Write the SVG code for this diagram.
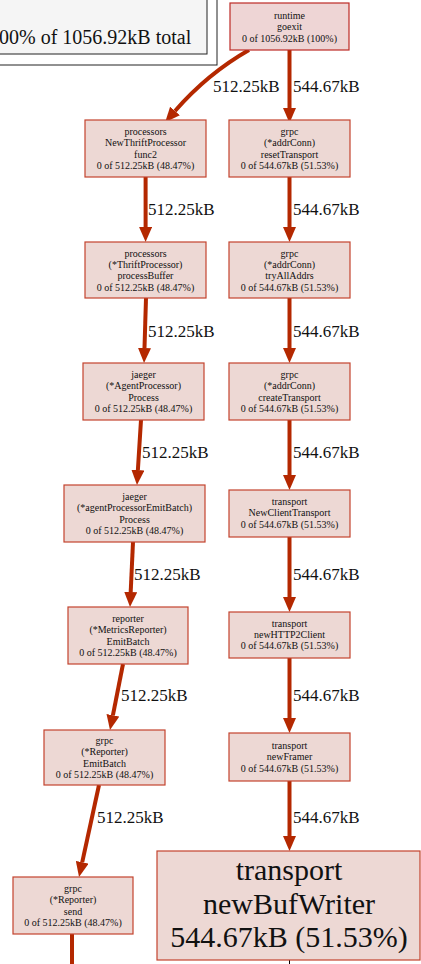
<svg xmlns="http://www.w3.org/2000/svg" width="421" height="964" viewBox="0 0 421 964">
  <style>
    text { font-family: 'Liberation Serif', 'DejaVu Serif', serif; }
    .node rect { fill: #edd8d4; stroke: #c3432e; stroke-width: 1.2; }
    .node.hot rect { fill: #eed5d5; stroke: #bd2a26; }
    .node text { font-size: 10px; fill: #111; text-anchor: middle; }
    .node.big text { font-size: 30px; }
    .edge { fill: none; stroke: #b42800; stroke-width: 4; }
    .thin { fill: none; stroke: #000; stroke-width: 1; }
    .elabel { font-size: 17px; fill: #111; }
    .legend rect { stroke: #222; stroke-width: 1; }
    .legend text { font-size: 20px; fill: #111; }
  </style>
  <defs>
    <marker id="arrow" markerUnits="userSpaceOnUse" markerWidth="15" markerHeight="13" refX="0" refY="6.5" orient="auto" viewBox="0 0 15 13">
      <path d="M0,0 L15,6.5 L0,13 z" fill="#b42800"/>
    </marker>
  </defs>
  <rect x="0" y="0" width="421" height="964" fill="#fff"/>

  <!-- legend -->
  <g id="legend" class="legend">
    <rect x="-2" y="-2" width="219" height="67" fill="#fff"/>
    <rect x="-2" y="-2" width="209" height="56" fill="#f5f5f5"/>
    <text x="-1" y="43.5">00% of 1056.92kB total</text>
  </g>

  <!-- connectors -->
  <g id="edges">
    <path class="edge" d="M249,50 C228,62 202,80 175,111" marker-end="url(#arrow)"/>
    <path class="edge" d="M289.5,50 L289.5,108" marker-end="url(#arrow)"/>
    <path class="edge" d="M145.6,177 L145.6,227" marker-end="url(#arrow)"/>
    <path class="edge" d="M289.5,177 L289.5,227" marker-end="url(#arrow)"/>
    <path class="edge" d="M146,298 L144.5,348" marker-end="url(#arrow)"/>
    <path class="edge" d="M289.5,298 L289.5,348" marker-end="url(#arrow)"/>
    <path class="edge" d="M141,420 L137.9,470" marker-end="url(#arrow)"/>
    <path class="edge" d="M289.5,420 L289.5,475" marker-end="url(#arrow)"/>
    <path class="edge" d="M133,542 L130.7,592" marker-end="url(#arrow)"/>
    <path class="edge" d="M289.5,537 L289.5,597" marker-end="url(#arrow)"/>
    <path class="edge" d="M123,664 L112.9,715.3" marker-end="url(#arrow)"/>
    <path class="edge" d="M289.5,658 L289.5,718" marker-end="url(#arrow)"/>
    <path class="edge" d="M99,785 L82.2,862.3" marker-end="url(#arrow)"/>
    <path class="edge" d="M289.5,781 L289.5,836" marker-end="url(#arrow)"/>
    <path class="edge" d="M72,934 L72,966"/>
    <path class="thin" d="M289.5,960 L289.5,966"/>

    <text class="elabel" x="213" y="92">512.25kB</text>
    <text class="elabel" x="293" y="92">544.67kB</text>
    <text class="elabel" x="148" y="215">512.25kB</text>
    <text class="elabel" x="293" y="215">544.67kB</text>
    <text class="elabel" x="148" y="337">512.25kB</text>
    <text class="elabel" x="293" y="337">544.67kB</text>
    <text class="elabel" x="142" y="458">512.25kB</text>
    <text class="elabel" x="293" y="458">544.67kB</text>
    <text class="elabel" x="134" y="580">512.25kB</text>
    <text class="elabel" x="293" y="580">544.67kB</text>
    <text class="elabel" x="121" y="701">512.25kB</text>
    <text class="elabel" x="293" y="701">544.67kB</text>
    <text class="elabel" x="97" y="823">512.25kB</text>
    <text class="elabel" x="293" y="823">544.67kB</text>
  </g>

  <!-- nodes -->
  <g id="runtime_goexit" class="node hot">
    <rect x="230" y="3" width="119" height="47"/>
    <text x="289.5" y="18.5">runtime</text>
    <text x="289.5" y="30">goexit</text>
    <text x="289.5" y="41.5">0 of 1056.92kB (100%)</text>
  </g>

  <g id="processors_NewThriftProcessor_func2" class="node">
    <rect x="85" y="120" width="121" height="57"/>
    <text x="145.5" y="135">processors</text>
    <text x="145.5" y="146.3">NewThriftProcessor</text>
    <text x="145.5" y="157.7">func2</text>
    <text x="145.5" y="169">0 of 512.25kB (48.47%)</text>
  </g>

  <g id="grpc_addrConn_resetTransport" class="node">
    <rect x="229" y="120" width="121" height="57"/>
    <text x="289.5" y="135">grpc</text>
    <text x="289.5" y="146.3">(*addrConn)</text>
    <text x="289.5" y="157.7">resetTransport</text>
    <text x="289.5" y="169">0 of 544.67kB (51.53%)</text>
  </g>

  <g id="processors_ThriftProcessor_processBuffer" class="node">
    <rect x="85" y="242" width="121" height="56"/>
    <text x="145.5" y="256.5">processors</text>
    <text x="145.5" y="267.8">(*ThriftProcessor)</text>
    <text x="145.5" y="279.2">processBuffer</text>
    <text x="145.5" y="290.5">0 of 512.25kB (48.47%)</text>
  </g>

  <g id="grpc_addrConn_tryAllAddrs" class="node">
    <rect x="229" y="242" width="121" height="56"/>
    <text x="289.5" y="256.5">grpc</text>
    <text x="289.5" y="267.8">(*addrConn)</text>
    <text x="289.5" y="279.2">tryAllAddrs</text>
    <text x="289.5" y="290.5">0 of 544.67kB (51.53%)</text>
  </g>

  <g id="jaeger_AgentProcessor_Process" class="node">
    <rect x="83" y="363" width="121" height="57"/>
    <text x="143.5" y="378">jaeger</text>
    <text x="143.5" y="389.3">(*AgentProcessor)</text>
    <text x="143.5" y="400.7">Process</text>
    <text x="143.5" y="412">0 of 512.25kB (48.47%)</text>
  </g>

  <g id="grpc_addrConn_createTransport" class="node">
    <rect x="229" y="363" width="121" height="57"/>
    <text x="289.5" y="378">grpc</text>
    <text x="289.5" y="389.3">(*addrConn)</text>
    <text x="289.5" y="400.7">createTransport</text>
    <text x="289.5" y="412">0 of 544.67kB (51.53%)</text>
  </g>

  <g id="jaeger_agentProcessorEmitBatch_Process" class="node">
    <rect x="64" y="485" width="141" height="57"/>
    <text x="134.5" y="500">jaeger</text>
    <text x="134.5" y="511.3">(*agentProcessorEmitBatch)</text>
    <text x="134.5" y="522.7">Process</text>
    <text x="134.5" y="534">0 of 512.25kB (48.47%)</text>
  </g>

  <g id="transport_NewClientTransport" class="node">
    <rect x="229" y="490" width="121" height="47"/>
    <text x="289.5" y="505">transport</text>
    <text x="289.5" y="516.3">NewClientTransport</text>
    <text x="289.5" y="527.6">0 of 544.67kB (51.53%)</text>
  </g>

  <g id="reporter_MetricsReporter_EmitBatch" class="node">
    <rect x="68" y="607" width="120" height="57"/>
    <text x="128" y="622">reporter</text>
    <text x="128" y="633.3">(*MetricsReporter)</text>
    <text x="128" y="644.7">EmitBatch</text>
    <text x="128" y="656">0 of 512.25kB (48.47%)</text>
  </g>

  <g id="transport_newHTTP2Client" class="node">
    <rect x="229" y="612" width="121" height="46"/>
    <text x="289.5" y="626.7">transport</text>
    <text x="289.5" y="638">newHTTP2Client</text>
    <text x="289.5" y="649.3">0 of 544.67kB (51.53%)</text>
  </g>

  <g id="grpc_Reporter_EmitBatch" class="node">
    <rect x="44" y="730" width="121" height="55"/>
    <text x="104.5" y="744">grpc</text>
    <text x="104.5" y="755.3">(*Reporter)</text>
    <text x="104.5" y="766.7">EmitBatch</text>
    <text x="104.5" y="778">0 of 512.25kB (48.47%)</text>
  </g>

  <g id="transport_newFramer" class="node">
    <rect x="229" y="733" width="121" height="48"/>
    <text x="289.5" y="749">transport</text>
    <text x="289.5" y="760.3">newFramer</text>
    <text x="289.5" y="771.6">0 of 544.67kB (51.53%)</text>
  </g>

  <g id="grpc_Reporter_send" class="node">
    <rect x="13" y="877" width="120" height="57"/>
    <text x="73" y="892">grpc</text>
    <text x="73" y="903.3">(*Reporter)</text>
    <text x="73" y="914.7">send</text>
    <text x="73" y="926">0 of 512.25kB (48.47%)</text>
  </g>

  <g id="transport_newBufWriter" class="node big">
    <rect x="157" y="851" width="263" height="109"/>
    <text x="289" y="880">transport</text>
    <text x="289" y="914">newBufWriter</text>
    <text x="289" y="947">544.67kB (51.53%)</text>
  </g>
</svg>
